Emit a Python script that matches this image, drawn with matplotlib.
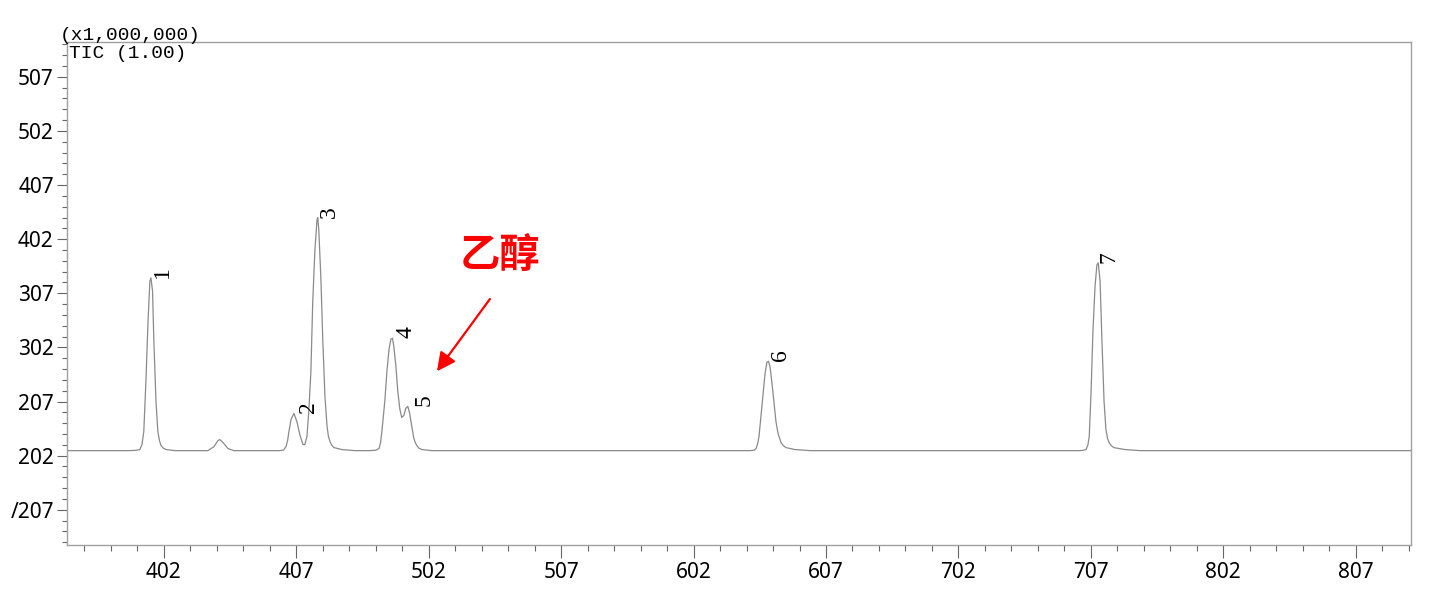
import numpy as np
import matplotlib
matplotlib.use("Agg")
import matplotlib.pyplot as plt
from matplotlib.ticker import FixedLocator, MultipleLocator

# ----------------------------------------------------------------------------
# GC-MS total ion chromatogram (TIC)
# retention time in min, intensity in units of 1,000,000
# ----------------------------------------------------------------------------

rt = [3.634,
      3.872, 3.895, 3.909, 3.917, 3.924, 3.932, 3.940, 3.947, 3.951, 3.957,
      3.962, 3.970, 3.977, 3.983, 3.989, 3.998, 4.008, 4.042,
      4.166, 4.189, 4.204, 4.211, 4.223, 4.242, 4.264,
      4.438, 4.452, 4.461, 4.467, 4.472, 4.480, 4.491, 4.502, 4.514, 4.525,
      4.532, 4.540, 4.547, 4.555, 4.562, 4.570, 4.578, 4.581, 4.585, 4.593,
      4.600, 4.608, 4.616, 4.621, 4.627, 4.634, 4.642, 4.672, 4.721,
      4.778, 4.800, 4.812, 4.818, 4.823, 4.834, 4.842, 4.850, 4.857, 4.863,
      4.868, 4.876, 4.883, 4.891, 4.898, 4.906, 4.913, 4.921, 4.928, 4.936,
      4.943, 4.949, 4.955, 4.963, 4.974, 5.012,
      6.213, 6.228, 6.236, 6.242, 6.247, 6.258, 6.270, 6.277, 6.283, 6.289,
      6.296, 6.304, 6.311, 6.319, 6.330, 6.339, 6.349, 6.383, 6.440,
      7.459, 7.474, 7.482, 7.489, 7.494, 7.501, 7.508, 7.516, 7.523, 7.528,
      7.535, 7.542, 7.550, 7.557, 7.563, 7.569, 7.577, 7.587, 7.629, 7.686,
      8.709]

tic = [0.046,
       0.046, 0.049, 0.056, 0.100, 0.223, 0.686, 1.243, 1.614, 1.642, 1.521,
       1.058, 0.501, 0.223, 0.140, 0.093, 0.068, 0.056, 0.046,
       0.046, 0.083, 0.139, 0.148, 0.121, 0.065, 0.046,
       0.046, 0.052, 0.083, 0.140, 0.223, 0.334, 0.390, 0.315, 0.186, 0.102,
       0.102, 0.176, 0.408, 0.779, 1.429, 1.892, 2.180, 2.199, 2.078, 1.614,
       1.058, 0.547, 0.269, 0.180, 0.130, 0.095, 0.074, 0.056, 0.046,
       0.046, 0.050, 0.065, 0.120, 0.223, 0.501, 0.779, 0.983, 1.076, 1.085,
       1.011, 0.826, 0.594, 0.427, 0.353, 0.371, 0.436, 0.455, 0.390, 0.269,
       0.167, 0.120, 0.093, 0.068, 0.056, 0.046,
       0.046, 0.050, 0.065, 0.110, 0.176, 0.455, 0.761, 0.863, 0.872, 0.816,
       0.668, 0.482, 0.315, 0.204, 0.121, 0.092, 0.074, 0.056, 0.046,
       0.046, 0.050, 0.056, 0.100, 0.176, 0.594, 1.150, 1.568, 1.763, 1.781,
       1.614, 1.058, 0.501, 0.241, 0.160, 0.121, 0.092, 0.074, 0.056, 0.046,
       0.046]

# peak numbers and their retention times
peak_ids = ["1", "2", "3", "4", "5", "6", "7"]
peak_rt = [3.951, 4.491, 4.581, 4.863, 4.921, 6.283, 7.528]

# axis ticks (labels kept exactly as printed on the original)
x_ticks = [4.0, 4.5, 5.0, 5.5, 6.0, 6.5, 7.0, 7.5, 8.0, 8.5]
x_labels = ["402", "407", "502", "507", "602", "607", "702", "707", "802", "807"]
y_ticks = [3.5, 3.0, 2.5, 2.0, 1.5, 1.0, 0.5, 0.0, -0.5]
y_labels = ["507", "502", "407", "402", "307", "302", "207", "202", "/207"]

# annotation for ethanol
note_text = "乙醇"
note_xy = (5.269, 1.846)
arrow_tail = (5.231, 1.447)
arrow_head = (5.031, 0.779)

# ----------------------------------------------------------------------------
fig = plt.figure(figsize=(14.36, 5.96), dpi=100)
ax = fig.add_axes([67 / 1436, 1 - 545 / 596, (1411 - 67) / 1436, (545 - 42) / 596])

ax.plot(rt, tic, color="#8a8a8a", linewidth=0.9)

ax.set_xlim(3.634, 8.709)
ax.set_ylim(-0.826, 3.822)

# ticks
ax.xaxis.set_major_locator(FixedLocator(x_ticks))
ax.set_xticklabels(x_labels)
ax.xaxis.set_minor_locator(MultipleLocator(0.1))
ax.yaxis.set_major_locator(FixedLocator(y_ticks))
ax.set_yticklabels(y_labels)
ax.yaxis.set_minor_locator(MultipleLocator(0.1))

for lbl in ax.get_xticklabels() + ax.get_yticklabels():
    lbl.set_fontfamily("Noto Sans")
    lbl.set_fontsize(15)
    lbl.set_fontweight("medium")
    lbl.set_color("black")

ax.tick_params(axis="both", which="both", direction="out", color="#666666", width=0.8)
ax.tick_params(axis="x", which="major", length=9, pad=3)
ax.tick_params(axis="x", which="minor", length=4.5)
ax.tick_params(axis="y", which="major", length=7.5, pad=2)
ax.tick_params(axis="y", which="minor", length=3.5)

for sp in ax.spines.values():
    sp.set_color("#a0a0a0")
    sp.set_linewidth(1.0)

# peak numbers, rotated, just right of each apex
serif = ["Liberation Serif", "DejaVu Serif"]
trace_rt = np.array(rt)
trace_tic = np.array(tic)
dx_pts = [0.5, 3, 0.5, 2.5, 4, 1, 0.5]
for pid, t, dx in zip(peak_ids, peak_rt, dx_pts):
    v = np.interp(t, trace_rt, trace_tic)
    ax.annotate(pid, (t, v), xytext=(dx, 0), textcoords="offset points",
                rotation=90, ha="left", va="bottom",
                family=serif, fontsize=17, color="black")

# header texts
mono = ["Liberation Mono", "DejaVu Sans Mono"]
fig.text(60 / 1436, 1 - 40 / 596, "(x1,000,000)", family=mono,
         fontsize=14, ha="left", va="baseline")
ax.text(0.0015, 0.995, "TIC (1.00)", transform=ax.transAxes,
        family=mono, fontsize=14, ha="left", va="top")

# red annotation
ax.text(note_xy[0], note_xy[1], note_text, color="#ff0000", fontsize=29,
        fontweight="bold", family=["Noto Sans CJK SC", "DejaVu Sans"],
        ha="center", va="center")
ax.annotate("", xy=arrow_head, xytext=arrow_tail,
            arrowprops=dict(arrowstyle="-|>", color="#ff0000", lw=1.6,
                            mutation_scale=28, shrinkA=0, shrinkB=0))

fig.savefig("out.png", dpi=100)
